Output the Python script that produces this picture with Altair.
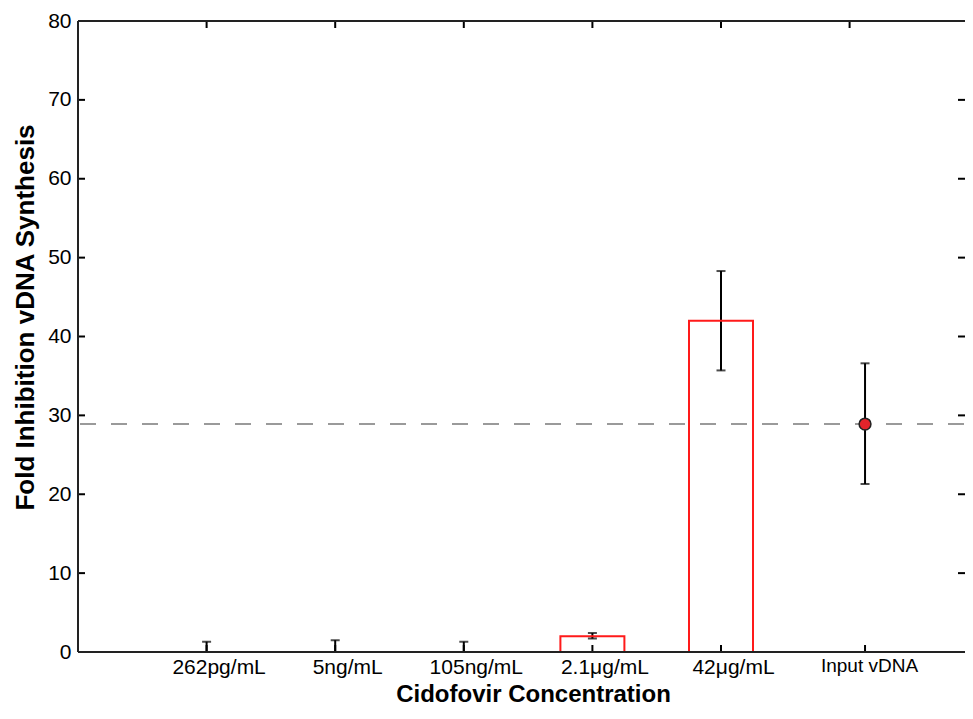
import altair as alt
import pandas as pd

# ---- data ----
categories = ["262pg/mL", "5ng/mL", "105ng/mL", "2.1μg/mL", "42μg/mL", "Input vDNA"]
positions = [1, 2, 3, 4, 5, 6.12]
means = [0.0, 0.0, 0.0, 2.0, 42.0, 28.9]
err_low = [0.0, 0.0, 0.0, 1.7, 35.7, 21.3]
err_high = [1.3, 1.5, 1.3, 2.4, 48.3, 36.6]
kinds = ["none", "none", "none", "bar", "bar", "point"]
reference_line = [28.9]
y_tick_values = [0, 10, 20, 30, 40, 50, 60, 70, 80]
top_tick_values = [1, 2, 3, 4, 5, 6]

W, H = 887, 631
UNIT = 128.6
FONT = "Liberation Sans"

df = pd.DataFrame({"cat": categories, "pos": positions, "mean": means,
                   "lo": err_low, "hi": err_high, "kind": kinds})
bars_df = df[df["kind"] == "bar"]
pt_df = df[df["kind"] == "point"]

xs = alt.Scale(domain=[0, W / UNIT], nice=False, zero=False, padding=0)
ys = alt.Scale(domain=[0, 80], nice=False, padding=0)

label_expr = " : ".join(
    [f"datum.value == {p} ? '{c}'" for p, c in zip(positions, categories)]) + " : ''"

x_axis = alt.Axis(values=positions, labelExpr=label_expr, title="Cidofovir Concentration",
                  ticks=False, domain=False, grid=False, labelPadding=4,
                  labelFontSize={"condition": {"test": "datum.value > 6", "value": 19}, "value": 21},
                  labelOffset={"condition": {"test": "datum.value > 6", "value": 4}, "value": 12},
                  labelFont=FONT, labelColor="black", labelFlush=False, labelOverlap=False,
                  titleFont=FONT, titleFontSize=24, titleFontWeight="bold", titleColor="black",
                  titleX=455, titleY=49, titleBaseline="alphabetic", titleAlign="center")
y_axis = alt.Axis(values=y_tick_values, title="Fold Inhibition vDNA Synthesis",
                  ticks=False, domain=False, grid=False, labelPadding=7,
                  labelFontSize=21, labelFont=FONT, labelColor="black",
                  labelFlush=False, labelOverlap=False,
                  titleFont=FONT, titleFontSize=26, titleFontWeight="bold",
                  titleColor="black", titleX=-45, titleY=296, titleAngle=270,
                  titleBaseline="alphabetic", titleAlign="center")


def X(field):
    return alt.X(field, scale=xs, axis=x_axis)


def Y(field):
    return alt.Y(field, scale=ys, axis=y_axis)


base = alt.Chart(df)

# error bars
err_rule = base.mark_rule(color="black", strokeWidth=2).encode(
    x=X("pos:Q"), y=Y("lo:Q"), y2="hi:Q")
cap_hi = base.mark_tick(color="black", orient="horizontal", size=9, thickness=2).encode(
    x=X("pos:Q"), y=Y("hi:Q"))
cap_lo = alt.Chart(df[df["lo"] > 0]).mark_tick(color="black", orient="horizontal", size=9, thickness=2).encode(
    x=X("pos:Q"), y=Y("lo:Q"))

bars = alt.Chart(bars_df).mark_bar(size=64, fill="white", fillOpacity=0,
                                   stroke="#ff1a1a", strokeWidth=2).encode(
    x=X("pos:Q"), y=Y("mean:Q"))

dash = alt.Chart(pd.DataFrame({"v": reference_line})).mark_rule(
    color="#9a9a9a", strokeWidth=2, strokeDash=[16, 15]).encode(
    y=Y("v:Q"), x=alt.value(2), x2=alt.value(W))

point = alt.Chart(pt_df).mark_point(filled=True, size=140, fill="#e3242b",
                                    stroke="#222222", strokeWidth=1.5, opacity=1).encode(
    x=X("pos:Q"), y=Y("mean:Q"))

ydf = pd.DataFrame({"v": y_tick_values})
left_ticks = alt.Chart(ydf).mark_rule(color="black", strokeWidth=2).encode(
    y=Y("v:Q"), x=alt.value(0), x2=alt.value(7))
right_ticks = alt.Chart(ydf).mark_rule(color="black", strokeWidth=2).encode(
    y=Y("v:Q"), x=alt.value(W - 7), x2=alt.value(W))
top_ticks = alt.Chart(pd.DataFrame({"v": top_tick_values})).mark_rule(color="black", strokeWidth=2).encode(
    x=X("v:Q"), y=alt.value(0), y2=alt.value(7))
bottom_ticks = alt.Chart(pd.DataFrame({"v": positions})).mark_rule(color="black", strokeWidth=2).encode(
    x=X("v:Q"), y=alt.value(H - 7), y2=alt.value(H))

frame_df = pd.DataFrame({"v": [0]})
frame_left = alt.Chart(frame_df).mark_rule(color="#222222", strokeWidth=2).encode(
    x=alt.value(0), y=alt.value(0), y2=alt.value(H))
frame_top = alt.Chart(frame_df).mark_rule(color="#222222", strokeWidth=2).encode(
    y=alt.value(0), x=alt.value(0), x2=alt.value(W))
frame_bottom = alt.Chart(frame_df).mark_rule(color="#222222", strokeWidth=2).encode(
    y=alt.value(H), x=alt.value(0), x2=alt.value(W))

chart = alt.layer(
    err_rule, dash, bars, cap_hi, cap_lo, point,
    left_ticks, right_ticks, top_ticks, bottom_ticks,
    frame_left, frame_top, frame_bottom,
).properties(
    width=W, height=H,
    autosize=alt.AutoSizeParams(type="none"),
    padding={"left": 70, "top": 13, "right": 0, "bottom": 55},
).configure_view(stroke=None).configure(background="white")

chart.save("out.html", embed_options={"renderer": "svg", "actions": False})
